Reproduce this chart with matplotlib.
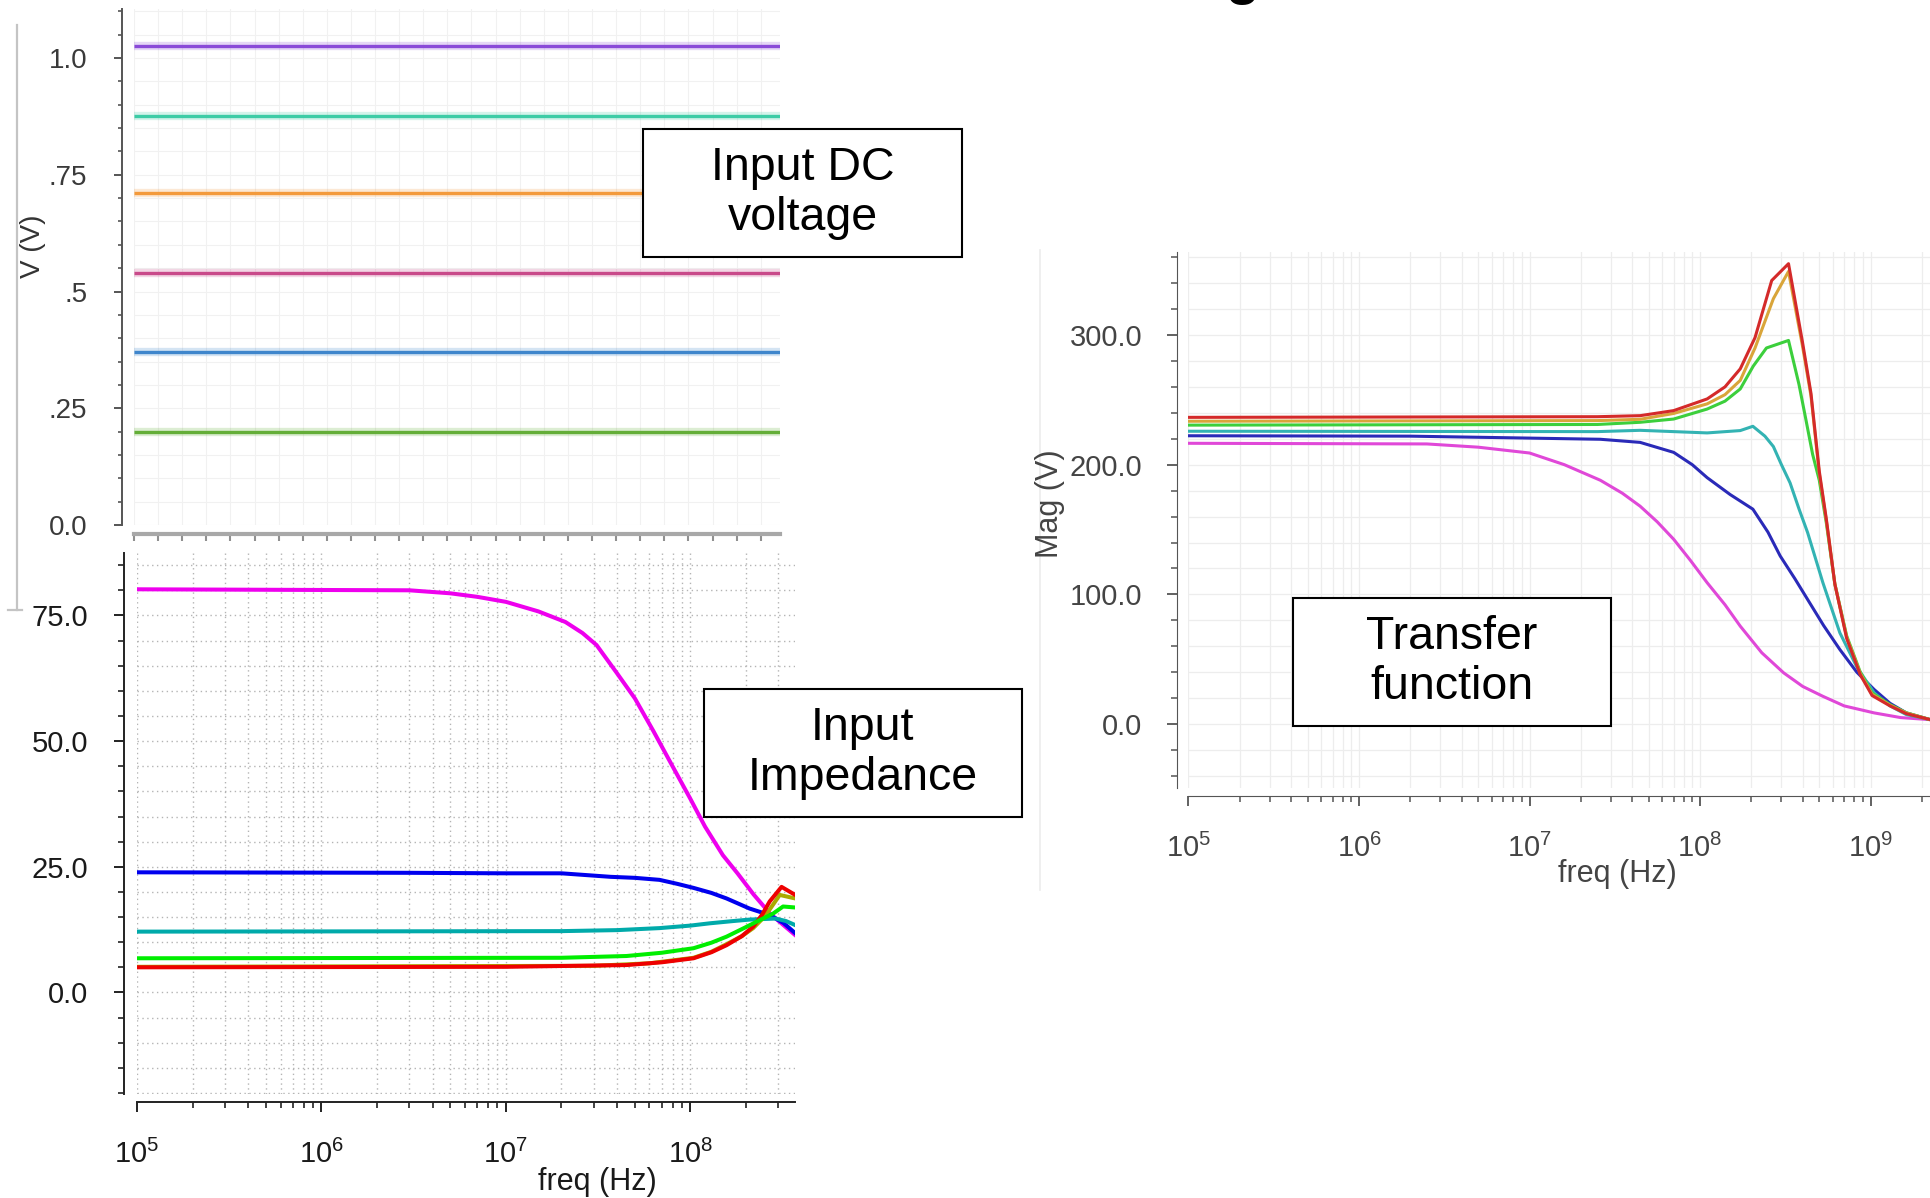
import matplotlib
matplotlib.use('Agg')
import matplotlib.pyplot as plt
from matplotlib.patches import Rectangle
from matplotlib.lines import Line2D
from matplotlib.ticker import MultipleLocator

plt.rcParams['font.family'] = ['Liberation Sans', 'DejaVu Sans']

# ---- input DC voltage (top left) ----
dc_x = [0, 26.8]
dc_levels = [1.025, 0.875, 0.71, 0.54, 0.37, 0.20]
dc_colors = ['#8a4ad8', '#3ccca6', '#f39a3c', '#c94a8a', '#3f86cc', '#64ae38']
dc_yticks = [0, 0.25, 0.5, 0.75, 1.0]
dc_ylabels = ['0.0', '.25', '.5', '.75', '1.0']

# ---- input impedance (bottom left) ----
zin_mag_f = [1e5, 3e6, 5e6, 7e6, 1e7, 1.5e7, 2.1e7, 2.6e7, 3.1e7, 4e7, 5e7, 6.3e7, 8e7, 1e8,
             1.2e8, 1.5e8, 1.8e8, 2.2e8, 2.7e8, 3.7e8]
zin_mag_v = [80.2, 80.0, 79.4, 78.7, 77.7, 75.8, 73.7, 71.5, 69.1, 63.5, 58.5, 52.0, 45.0, 38.5,
             33.0, 27.3, 23.7, 19.5, 15.7, 11.4]
zin_blue_f = [1e5, 3e6, 1e7, 2e7, 3.7e7, 5e7, 6.8e7, 8.5e7, 1.04e8, 1.3e8, 1.57e8, 2.09e8, 2.69e8, 3.2e8, 3.7e8]
zin_blue_v = [23.9, 23.8, 23.7, 23.7, 23.0, 22.8, 22.4, 21.6, 20.8, 19.8, 18.7, 16.7, 15.4, 13.8, 11.8]
zin_teal_f = [1e5, 2e7, 4e7, 6.8e7, 1e8, 1.27e8, 1.7e8, 2.1e8, 2.9e8, 3.3e8, 3.7e8]
zin_teal_v = [12.1, 12.2, 12.4, 12.8, 13.3, 13.75, 14.2, 14.5, 14.7, 14.2, 13.4]
zin_olive_f = [1e5, 3e7, 6e7, 1.04e8, 1.3e8, 1.57e8, 1.9e8, 2.19e8, 2.45e8, 2.69e8, 3.05e8, 3.7e8]
zin_olive_v = [5.1, 5.3, 5.8, 6.9, 8.1, 9.6, 11.2, 12.8, 14.6, 16.5, 19.4, 18.7]
zin_red_f = [1e5, 1e7, 4.5e7, 7e7, 1.04e8, 1.3e8, 1.57e8, 1.9e8, 2.19e8, 2.45e8, 2.69e8, 3.12e8, 3.7e8]
zin_red_v = [5.0, 5.1, 5.45, 6.0, 6.8, 8.0, 9.4, 11.2, 13.1, 15.5, 18.1, 21.0, 19.4]
zin_green_f = [1e5, 2e7, 4.5e7, 7e7, 1.04e8, 1.3e8, 1.57e8, 1.95e8, 2.38e8, 2.81e8, 3.18e8, 3.7e8]
zin_green_v = [6.8, 6.9, 7.25, 7.9, 8.8, 9.9, 11.1, 12.8, 14.4, 15.7, 17.1, 16.9]

# ---- transfer function (right) ----
tf_mag_f = [1e5, 2.5e6, 5e6, 1e7, 1.6e7, 2.6e7, 3.5e7, 4.45e7, 5.6e7, 7e7, 8.8e7, 1.1e8, 1.4e8,
            1.72e8, 2.3e8, 3.09e8, 4e8, 5.25e8, 7e8, 1.05e9, 1.5e9, 2.24e9]
tf_mag_v = [216.5, 216.0, 213.5, 209.0, 200.0, 188.0, 178.0, 168.0, 156.0, 142.5, 126.0, 109.0, 92.0,
            75.5, 55.0, 39.5, 29.0, 21.4, 14.0, 8.6, 5.0, 3.4]
tf_blue_f = [1e5, 2e6, 1e7, 2.6e7, 4.45e7, 7e7, 9e7, 1.1e8, 1.5e8, 2.04e8, 2.5e8, 2.95e8, 3.6e8,
             4.27e8, 5.3e8, 6.6e8, 8.3e8, 1.05e9, 1.3e9, 1.62e9, 2.24e9]
tf_blue_v = [222.3, 222.0, 220.5, 219.6, 217.2, 209.5, 200.0, 190.0, 177.0, 165.7, 148.0, 129.6, 112.0,
             96.1, 76.0, 57.5, 40.0, 26.6, 16.0, 8.6, 3.4]
tf_teal_f = [1e5, 2.5e7, 4.45e7, 1.1e8, 1.72e8, 2.04e8, 2.4e8, 2.69e8, 3e8, 3.37e8, 3.8e8, 4.27e8,
             5.25e8, 6.6e8, 8.3e8, 1.05e9, 1.3e9, 1.62e9, 2.24e9]
tf_teal_v = [225.8, 225.5, 226.5, 224.5, 226.3, 229.6, 222.0, 214.0, 200.0, 186.0, 166.0, 147.7,
             109.0, 70.4, 44.0, 24.0, 14.0, 7.3, 3.4]
tf_green_f = [1e5, 2.5e7, 4.45e7, 7e7, 1.1e8, 1.4e8, 1.72e8, 2.05e8, 2.45e8, 3.3e8, 3.8e8, 4.17e8,
              4.57e8, 5e8, 5.5e8, 6.17e8, 7.24e8, 8.7e8, 1.02e9, 1.3e9, 1.62e9, 2.24e9]
tf_green_v = [230.5, 231.0, 232.7, 235.2, 242.9, 249.0, 258.4, 276.0, 290.0, 295.8, 262.0, 235.0,
              208.0, 188.0, 155.0, 108.0, 68.0, 40.0, 24.0, 15.0, 8.7, 3.4]
tf_orange_f = [1e5, 2.5e7, 4.45e7, 7e7, 1.1e8, 1.4e8, 1.72e8, 2.1e8, 2.69e8, 3.3e8, 3.98e8, 4.47e8,
               5e8, 5.5e8, 6.17e8, 7.24e8, 8.7e8, 1.02e9, 1.3e9, 1.62e9, 2.24e9]
tf_orange_v = [233.5, 234.0, 235.0, 239.5, 246.9, 254.0, 265.0, 290.0, 328.0, 349.0, 292.0, 253.0,
               193.0, 157.0, 108.0, 67.0, 39.0, 23.0, 14.5, 8.5, 3.4]
tf_red_f = [1e5, 2.5e7, 4.45e7, 7e7, 1.1e8, 1.4e8, 1.72e8, 2.1e8, 2.63e8, 3.3e8, 3.98e8, 4.47e8,
            5e8, 5.5e8, 6.17e8, 7.24e8, 8.7e8, 1.02e9, 1.3e9, 1.62e9, 2.24e9]
tf_red_v = [236.5, 237.0, 237.8, 241.7, 250.7, 260.0, 273.9, 298.0, 342.0, 355.0, 295.0, 255.0,
            195.0, 158.0, 108.0, 66.0, 38.0, 22.0, 14.0, 8.0, 3.4]

W, H = 1931, 1198
fig = plt.figure(figsize=(W / 100, H / 100), dpi=100)
fig.patch.set_facecolor('white')


def px_axes(x0, y0, x1, y1):
    return fig.add_axes([x0 / W, 1 - y1 / H, (x1 - x0) / W, (y1 - y0) / H])


def style(ax, left_off, bottom_off, color):
    for s in ['top', 'right']:
        ax.spines[s].set_visible(False)
    ax.spines['left'].set_position(('outward', left_off))
    ax.spines['bottom'].set_position(('outward', bottom_off))
    ax.spines['left'].set_color(color)
    ax.spines['bottom'].set_color(color)
    ax.tick_params(which='both', direction='out', colors=color)


# top left
ax1 = px_axes(134, 9, 780, 525)
for lv, c in zip(dc_levels, dc_colors):
    ax1.plot(dc_x, [lv, lv], color=c, lw=6, alpha=0.22, solid_capstyle='butt')
    ax1.plot(dc_x, [lv, lv], color=c, lw=2.4, solid_capstyle='butt')
ax1.set_xlim(0, 26.8)
ax1.set_ylim(0, 1.105)
style(ax1, 8.6, 6.5, '#555555')
ax1.spines['bottom'].set_color('#a8a8a8')
ax1.spines['bottom'].set_linewidth(3)
ax1.spines['left'].set_linewidth(1.4)
ax1.xaxis.set_major_locator(MultipleLocator(5))
ax1.xaxis.set_minor_locator(MultipleLocator(1))
ax1.tick_params(axis='x', which='both', labelbottom=False, colors='#909090', length=5, width=1.5)
ax1.set_yticks(dc_yticks)
ax1.set_yticklabels(dc_ylabels)
ax1.yaxis.set_minor_locator(MultipleLocator(0.05))
ax1.tick_params(axis='y', which='major', length=6, width=1.4, labelsize=20, pad=19, labelcolor='#3a3a3a')
ax1.tick_params(axis='y', which='minor', length=3, width=1.2)
ax1.grid(which='both', color='#f1f1f1', lw=0.8)
ax1.set_axisbelow(True)
fig.text(33 / W, 1 - 246 / H, 'V (V)', rotation=90, fontsize=20, color='#333333',
         ha='center', va='center')

# bottom left
ax2 = px_axes(137, 552.6, 795, 1094)
ax2.set_xscale('log')
ax2.plot(zin_mag_f, zin_mag_v, color='#ee00ee', lw=2.9)
ax2.plot(zin_blue_f, zin_blue_v, color='#0000ee', lw=2.9)
ax2.plot(zin_teal_f, zin_teal_v, color='#00aaaa', lw=2.9)
ax2.plot(zin_olive_f, zin_olive_v, color='#aaaa00', lw=2.9)
ax2.plot(zin_red_f, zin_red_v, color='#ee0000', lw=2.9)
ax2.plot(zin_green_f, zin_green_v, color='#00ee00', lw=2.9)
ax2.set_xlim(1e5, 3.69e8)
ax2.set_ylim(-20.2, 87.5)
style(ax2, 9, 5.8, '#222222')
ax2.spines['left'].set_linewidth(1.4)
ax2.spines['bottom'].set_linewidth(1.4)
ax2.set_yticks([0, 25, 50, 75])
ax2.yaxis.set_major_formatter(lambda v, p: '%.1f' % v)
ax2.yaxis.set_minor_locator(MultipleLocator(5))
ax2.tick_params(which='major', length=7, width=1.4, labelsize=21, labelcolor='#1a1a1a')
ax2.tick_params(axis='y', which='major', pad=19)
ax2.tick_params(axis='x', which='major', pad=20)
ax2.tick_params(which='minor', length=4.5, width=1.2)
ax2.grid(which='both', ls=(0, (1, 2.5)), color='#b4b4b4', lw=1)
ax2.set_axisbelow(True)
fig.text(597 / W, 1 - 1190 / H, 'freq (Hz)', fontsize=22, color='#1a1a1a',
         ha='center', va='baseline')

# right
ax3 = px_axes(1188.5, 252, 1931, 788)
ax3.set_xscale('log')
ax3.plot(tf_mag_f, tf_mag_v, color='#e048d8', lw=2.2)
ax3.plot(tf_blue_f, tf_blue_v, color='#2a2ab8', lw=2.2)
ax3.plot(tf_teal_f, tf_teal_v, color='#33b3b3', lw=2.2)
ax3.plot(tf_green_f, tf_green_v, color='#3ccf3c', lw=2.2)
ax3.plot(tf_orange_f, tf_orange_v, color='#d9a53a', lw=2.2)
ax3.plot(tf_red_f, tf_red_v, color='#d42a2a', lw=2.2)
ax3.set_xlim(1e5, 2.26e9)
ax3.set_ylim(-49.3, 364)
style(ax3, 8.3, 5.8, '#555555')
ax3.set_yticks([0, 100, 200, 300])
ax3.yaxis.set_major_formatter(lambda v, p: '%.1f' % v)
ax3.yaxis.set_minor_locator(MultipleLocator(20))
ax3.tick_params(which='major', length=7, width=1.3, labelsize=21, labelcolor='#444444')
ax3.tick_params(axis='y', which='major', pad=18)
ax3.tick_params(axis='x', which='major', pad=20)
ax3.tick_params(which='minor', length=4, width=1.1)
ax3.grid(which='both', color='#ededed', lw=0.9)
ax3.set_axisbelow(True)
fig.text(1617 / W, 1 - 874 / H, 'freq (Hz)', fontsize=22, color='#444444',
         ha='center', va='center')
fig.text(1050 / W, 1 - 504 / H, 'Mag (V)', rotation=90, fontsize=22, color='#444444',
         ha='center', va='center')

# screenshot frame remnants
fig.add_artist(Line2D([17 / W, 17 / W], [1 - 25 / H, 1 - 610 / H], color='#c4c4c4', lw=1.6))
fig.add_artist(Line2D([8 / W, 22 / W], [1 - 610 / H, 1 - 610 / H], color='#c4c4c4', lw=1.6))
fig.add_artist(Line2D([1040 / W, 1040 / W], [1 - 250 / H, 1 - 890 / H], color='#ececec', lw=1.2))

# annotation boxes
boxes = [('Input DC\nvoltage', 643, 129, 962, 257),
         ('Input\nImpedance', 704, 689, 1022, 817),
         ('Transfer\nfunction', 1293, 598, 1611, 726)]
for txt, x0, y0, x1, y1 in boxes:
    fig.add_artist(Rectangle((x0 / W, 1 - y1 / H), (x1 - x0) / W, (y1 - y0) / H,
                             transform=fig.transFigure, facecolor='white',
                             edgecolor='black', lw=1.5, zorder=5))
    fig.text((x0 + x1) / 2 / W, 1 - (y0 + y1) / 2 / H, txt, fontsize=33.5,
             ha='center', va='center', linespacing=1.17, zorder=6)

# cut-off title at the very top (only its descender shows, as in the source)
fig.text(1243 / W, 1 + 7 / H, 'g', fontsize=40, fontweight='bold', ha='center', va='baseline')

fig.savefig('out.png', dpi=100, facecolor='white')
